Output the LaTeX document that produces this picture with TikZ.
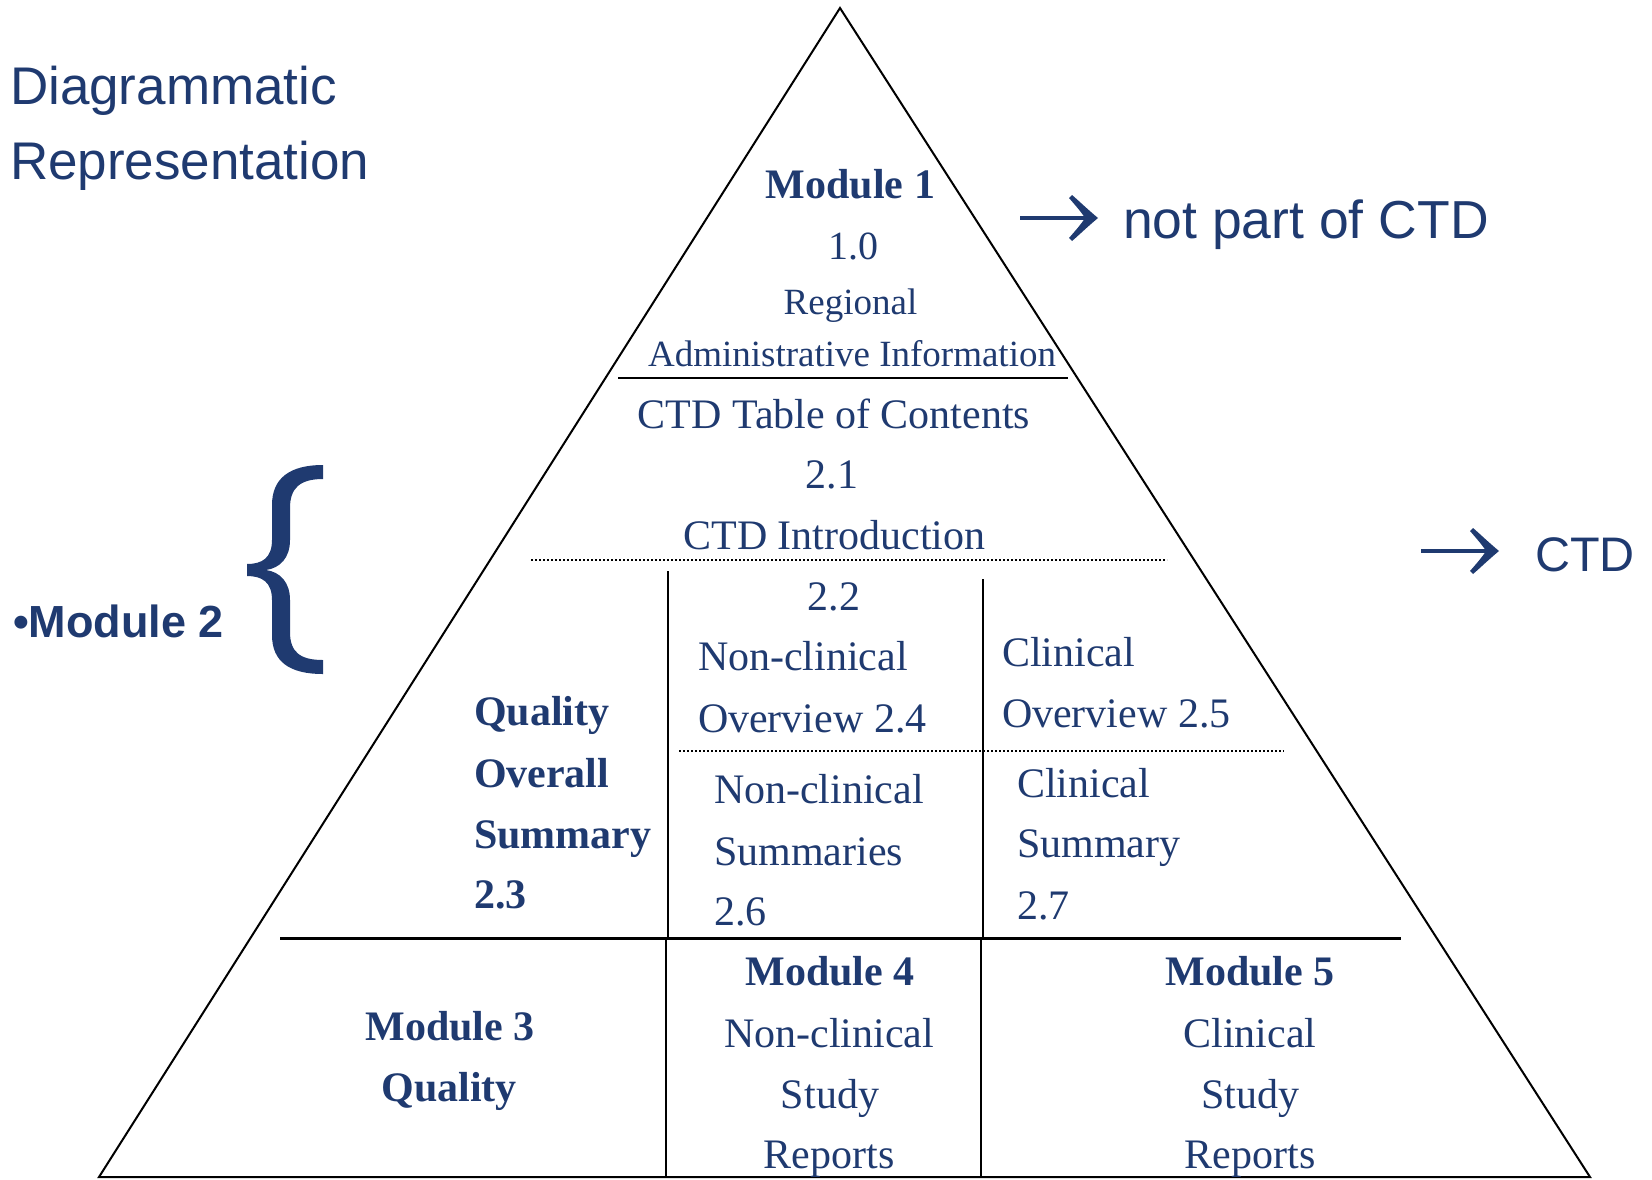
\documentclass[tikz,border=0pt]{standalone}
\usepackage{fontspec}
\setmainfont{Liberation Serif}
\newfontfamily\sansf{Liberation Sans}
\definecolor{navy}{HTML}{1F3A70}
\newcommand\setfs[1]{\fontsize{#1}{#1}\selectfont}
\begin{document}
\begin{tikzpicture}[x=1pt,y=-1pt,
  txt/.style={inner sep=0pt, outer sep=0pt, text=navy},
  ctr/.style={txt, anchor=base},
  lft/.style={txt, anchor=base west},
  reg/.style={font=\setfs{42}},
  regm/.style={font=\setfs{40}},
  regs/.style={font=\setfs{37}},
  bld/.style={font=\setfs{42}\bfseries},
  edge/.style={draw=black, line width=2pt, line join=miter},
  rule/.style={draw=black, line width=2.5pt},
  thickrule/.style={draw=black, line width=3.5pt},
  dotrule/.style={draw=black, line width=2pt, dash pattern=on 2pt off 2pt},
  pics/rarrow/.style={code={
    \draw[navy, line width=4pt] (-78,0) -- (-4,0);
    \fill[navy] (0,0) .. controls (-12,-10) and (-20,-18) .. (-26,-23)
      -- (-29,-20) .. controls (-22,-12) and (-16,-5) .. (-13,0)
      .. controls (-16,5) and (-22,12) .. (-29,20)
      -- (-26,23) .. controls (-20,18) and (-12,10) .. cycle;
  }}]
\useasboundingbox (0,0) rectangle (1652,1179);

% pyramid outline
\coordinate (apex) at (840,8);
\coordinate (bl) at (99,1177);
\coordinate (br) at (1590,1177);
\draw[edge] (apex) -- (bl) -- (br) -- cycle;

% division rules inside the pyramid
\coordinate (r1a) at (618,378);   \coordinate (r1b) at (1068,378);
\coordinate (d1a) at (531,559.5); \coordinate (d1b) at (1167,559.5);
\coordinate (d2a) at (679,751);   \coordinate (d2b) at (1284,751);
\coordinate (r2a) at (280,938.5); \coordinate (r2b) at (1401,938.5);
\coordinate (vl1) at (668,571);   \coordinate (vl2) at (668,938);
\coordinate (vl3) at (666,938);   \coordinate (vl4) at (666,1176);
\coordinate (vr1) at (983,579);   \coordinate (vr2) at (983,938);
\coordinate (vr3) at (981,938);   \coordinate (vr4) at (981,1177);
\draw[rule] (r1a) -- (r1b);
\draw[dotrule] (d1a) -- (d1b);
\draw[dotrule] (d2a) -- (d2b);
\draw[thickrule] (r2a) -- (r2b);
\draw[rule] (vl1) -- (vl2);
\draw[rule] (vl3) -- (vl4);
\draw[rule] (vr1) -- (vr2);
\draw[rule] (vr3) -- (vr4);

% title
\node[lft, font=\sansf\setfs{53}] (t1) at (10,104) {Diagrammatic};
\node[lft, font=\sansf\setfs{53}] (t2) at (10,179) {Representation};

% side labels with arrows
\pic at (1098,218) {rarrow};
\node[lft, font=\sansf\setfs{53.5}] (npc) at (1123,238) {not part of CTD};
\pic at (1499,551) {rarrow};
\node[lft, font=\sansf\setfs{48.5}] (ctd) at (1535,571) {CTD};

% module 2 label and brace
\node[lft, font=\sansf\bfseries\setfs{45}] (m2) at (13,637) {•Module 2};
\fill[navy] (323,465) .. controls (290,465) and (272,478) .. (272,505)
  -- (272,540) .. controls (272,558) and (262,564) .. (247,564)
  -- (247,576) .. controls (262,576) and (272,582) .. (272,600)
  -- (272,635) .. controls (272,662) and (290,674) .. (323,674)
  -- (323,660) .. controls (300,660) and (290,652) .. (290,632)
  -- (290,600) .. controls (290,582) and (280,572) .. (266,570)
  .. controls (280,568) and (290,558) .. (290,540)
  -- (290,508) .. controls (290,488) and (300,479) .. (323,479) -- cycle;

% module 1
\node[ctr, bld] (m1) at (850.5,198) {Module 1};
\node[ctr, regm] (m1n) at (853,259) {1.0};
\node[ctr, regs] (m1a) at (850.5,314) {Regional};
\node[ctr, regs] (m1b) at (852,366) {Administrative Information};

% module 2 contents
\node[ctr, reg] (toc) at (834,428) {CTD Table of Contents};
\node[ctr, reg] (tocn) at (832,488) {2.1};
\node[ctr, reg] (intro) at (834.5,549) {CTD Introduction};
\node[ctr, reg] (s22) at (834,610) {2.2};

\node[lft, bld] (q1) at (474,725) {Quality};
\node[lft, bld] (q2) at (474,787) {Overall};
\node[lft, bld] (q3) at (474,848) {Summary};
\node[lft, bld] (q4) at (474,908) {2.3};

\node[lft, reg] (no1) at (698,670) {Non-clinical};
\node[lft, reg] (no2) at (698,732) {Overview 2.4};
\node[lft, reg] (ns1) at (714,803) {Non-clinical};
\node[lft, reg] (ns2) at (714,865) {Summaries};
\node[lft, reg] (ns3) at (714,925) {2.6};

\node[lft, reg] (co1) at (1002,666) {Clinical};
\node[lft, reg] (co2) at (1002,727) {Overview 2.5};
\node[lft, reg] (cs1) at (1017,797) {Clinical};
\node[lft, reg] (cs2) at (1017,857) {Summary};
\node[lft, reg] (cs3) at (1017,919) {2.7};

% modules 3, 4, 5
\node[ctr, bld] (m3) at (450,1040) {Module 3};
\node[ctr, bld] (m3a) at (449,1101) {Quality};

\node[ctr, bld] (m4) at (830,985) {Module 4};
\node[ctr, reg] (m4a) at (829,1047) {Non-clinical};
\node[ctr, reg] (m4b) at (830,1108) {Study};
\node[ctr, reg] (m4c) at (829,1168) {Reports};

\node[ctr, bld] (m5) at (1250,985) {Module 5};
\node[ctr, reg] (m5a) at (1250,1047) {Clinical};
\node[ctr, reg] (m5b) at (1250,1108) {Study};
\node[ctr, reg] (m5c) at (1250,1168) {Reports};
\end{tikzpicture}
\end{document}
